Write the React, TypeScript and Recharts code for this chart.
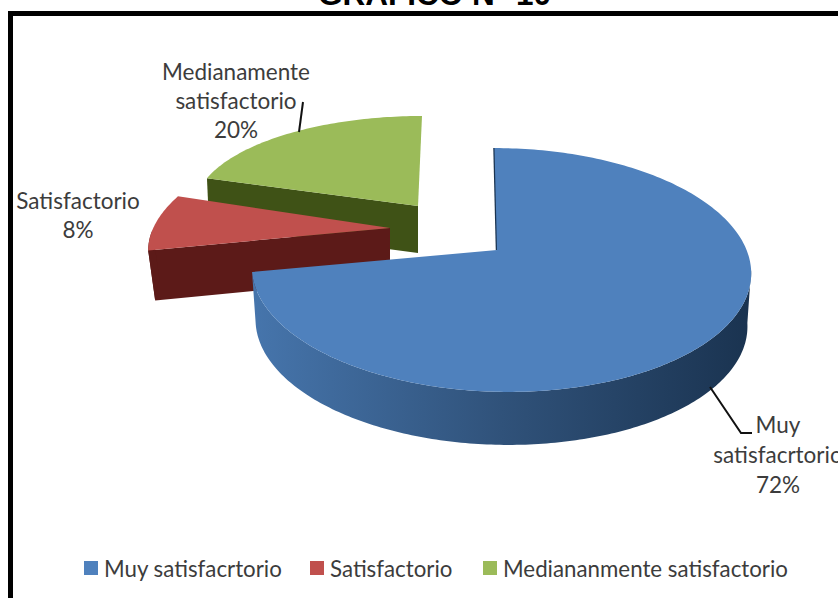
import React from 'react';
import { PieChart, Pie, Legend } from 'recharts';

// Slice order runs counter-clockwise from twelve o'clock so the front slice paints last.
const categories = ['Medianamente satisfactorio', 'Satisfactorio', 'Muy satisfacrtorio'];
const legendNames = ['Mediananmente satisfactorio', 'Satisfactorio', 'Muy satisfacrtorio'];
const values = [20, 8, 72];
const topColors = ['#9bbb59', '#c0504d', '#4f81bd'];
const sideColors = ['#3f5216', '#5c1a18', 'url(#blueWall)'];
const labelLines = [
  ['Medianamente', 'satisfactorio', '20%'],
  ['Satisfactorio', '8%'],
  ['Muy', 'satisfacrtorio', '72%'],
];
const legendOrder = [2, 1, 0];

const W = 838;
const H = 598;
const CX = 470;
const CY = 230;
const R = 240;

// Each slice is projected separately: pulled away from the centre, flattened, and extruded.
const projection = [
  { ax: -52, ay: -24, ex: 0, ey: 0, xs: 0.93, ys: 0.375, shear: 4, depth: 47, sweep: 1, bottom: 0.99, cut: true, edge: false },
  { ax: -80, ay: -2, ex: 0, ey: 2, xs: 0.99, ys: 0.454, shear: 45, depth: 50, sweep: 1, bottom: 0.97, cut: true, edge: false },
  { ax: 27, ay: 20, ex: 4.5, ey: 20, xs: 1.04, ys: 0.508, shear: -7, depth: 53, sweep: 1.038, bottom: 0.985, cut: false, edge: true },
];

// Text anchors and leader polylines for the outside labels.
const labelPlacement = [
  { x: 236, y: 80, step: 29 },
  { x: 78, y: 209, step: 29 },
  { x: 778, y: 433, step: 30 },
];
const leaders = [
  'M303,102 L299,132',
  '',
  'M710,387 L741,433 L752,433',
];
const legendMarks = [84, 310, 483];

const data = categories.map((name, i) => ({ name, value: values[i], fill: topColors[i] }));

const rad = (d: number) => (d * Math.PI) / 180;

function Slice3D(props: any) {
  const { cx, cy, outerRadius, startAngle, endAngle, fill, index } = props;
  const p = projection[index];
  const apexX = cx + p.ax;
  const apexY = cy + p.ay;
  const rx = outerRadius * p.xs;
  const ry = outerRadius * p.ys;
  const rim = (deg: number, lower = false) => {
    const c = Math.cos(rad(deg));
    const s = Math.sin(rad(deg));
    const k = lower ? p.bottom : 1;
    return [
      apexX + p.ex + rx * k * c + p.shear * s,
      apexY + p.ey - ry * s + (lower ? p.depth : 0),
    ];
  };
  // The swept angle may stretch slightly around the far end of the slice for perspective.
  const from = endAngle - (endAngle - startAngle) * p.sweep;
  const to = endAngle;
  const angles: number[] = [];
  for (let a = from; a < to; a += 1) angles.push(a);
  angles.push(to);

  const topPath =
    `M${apexX},${apexY} ` + angles.map((a) => `L${rim(a).join(',')}`).join(' ') + ' Z';

  const wallAngles = angles.filter((a) => a >= 180 && a <= 360);
  const wallPath = wallAngles.length
    ? 'M' +
      wallAngles.map((a) => rim(a).join(',')).join(' L') +
      ' L' +
      [...wallAngles].reverse().map((a) => rim(a, true).join(',')).join(' L') +
      ' Z'
    : '';

  const side = sideColors[index];
  const cutCorner = rim(to);
  const cutLower = rim(to, true);
  const cutPath = p.cut
    ? `M${apexX},${apexY} L${cutCorner.join(',')} L${cutLower.join(',')} L${apexX},${apexY + p.depth} Z`
    : '';
  const backEdge = rim(to);

  return (
    <g>
      {index === 2 && (
        <defs>
          <linearGradient id="blueWall" x1="0" y1="0" x2="1" y2="0">
            <stop offset="0" stopColor="#4675ac" />
            <stop offset="0.5" stopColor="#30527a" />
            <stop offset="1" stopColor="#1a3350" />
          </linearGradient>
        </defs>
      )}
      {cutPath && <path d={cutPath} fill={side} />}
      {wallPath && <path d={wallPath} fill={side} />}
      {p.edge && (
        <line x1={backEdge[0]} y1={backEdge[1]} x2={apexX} y2={apexY} stroke="#1a3350" strokeWidth={2.5} />
      )}
      <path d={topPath} fill={fill} />
    </g>
  );
}

function SliceLabel(props: any) {
  const { index } = props;
  const place = labelPlacement[index];
  return (
    <text textAnchor="middle" fontFamily="Lato" fontSize={22.5} fill="#3c3c3c">
      {labelLines[index].map((line, i) => (
        <tspan key={line} x={place.x} y={place.y + i * place.step}>
          {line}
        </tspan>
      ))}
    </text>
  );
}

function SliceLeader(props: any) {
  const d = leaders[props.index];
  return d ? <path d={d} fill="none" stroke="#111111" strokeWidth={2} /> : <g />;
}

function LegendRow(props: any) {
  const payload = props.payload ?? [];
  return (
    <div style={{ position: 'relative', height: 30, fontFamily: 'Lato', fontSize: 22.3, color: '#3c3c3c' }}>
      {legendOrder.map((idx, i) => {
        const item = payload.find((e: any) => e.value === categories[idx]);
        return (
          <div key={idx} style={{ position: 'absolute', left: legendMarks[i], top: 0, whiteSpace: 'nowrap', display: 'flex', alignItems: 'center', height: 30 }}>
            <span style={{ display: 'inline-block', width: 14, height: 14, background: item?.color, marginRight: 6 }} />
            {legendNames[idx]}
          </div>
        );
      })}
    </div>
  );
}

export default function App() {
  return (
    <div style={{ position: 'fixed', left: 0, top: 0, width: W, height: H, background: '#fff', overflow: 'hidden' }}>
      <div style={{ position: 'absolute', left: 318, top: -20, whiteSpace: 'nowrap', fontFamily: 'Liberation Sans', fontWeight: 700, fontSize: 31.5, lineHeight: '28px', color: '#000' }}>
        GRÁFICO N° 10
      </div>
      <div style={{ position: 'absolute', left: 8, top: 11, width: W, height: H, borderLeft: '5px solid #000', borderTop: '5px solid #000', boxSizing: 'border-box' }} />
      <div style={{ position: 'absolute', left: 0, top: 0 }}>
        <PieChart width={W} height={H} margin={{ top: 0, right: 0, bottom: 0, left: 0 }}>
          <Pie
            data={data}
            dataKey="value"
            nameKey="name"
            cx={CX}
            cy={CY}
            outerRadius={R}
            startAngle={90}
            endAngle={450}
            stroke="none"
            shape={Slice3D}
            label={SliceLabel}
            labelLine={SliceLeader}
            isAnimationActive={false}
          />
          <Legend content={LegendRow} wrapperStyle={{ left: 0, top: 553, width: W }} />
        </PieChart>
      </div>
    </div>
  );
}
